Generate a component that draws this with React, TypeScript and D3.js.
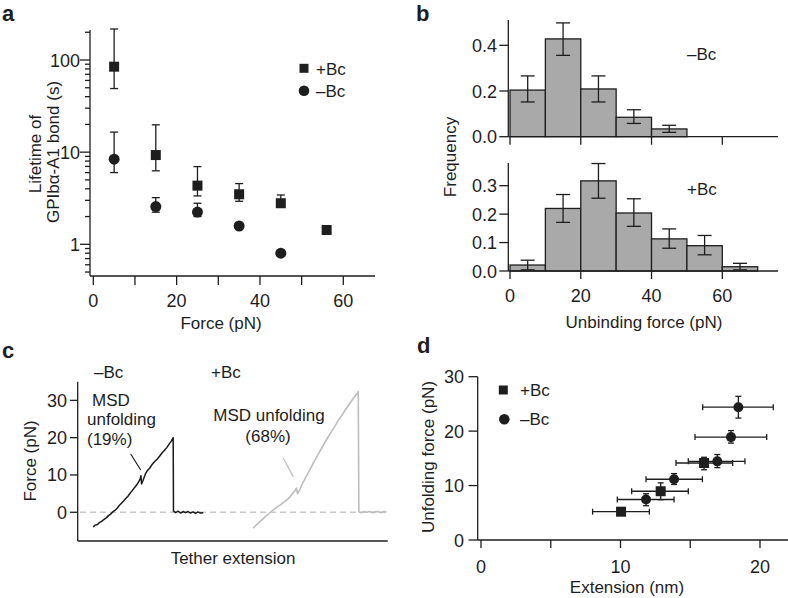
import * as d3 from "d3";

// panel a: bond lifetime vs force (log y)
const forceA = [5, 15, 25, 35, 45, 56];
const lifePlus = [84.6, 9.3, 4.33, 3.49, 2.79, 1.43];
const lifePlusHi = [217, 19.8, 6.97, 4.56, 3.43, null];
const lifePlusLo = [49, 6.27, 3.35, 2.93, 2.7, null];
const forceAMinus = [5, 15, 25, 35, 45];
const lifeMinus = [8.4, 2.57, 2.24, 1.58, 0.8];
const lifeMinusHi = [16.5, 3.21, 2.79, null, null];
const lifeMinusLo = [6.0, 2.23, 2.0, null, null];
const xTicksA = [0, 10, 20, 30, 40, 50, 60];
const xLabelsA = [0, 20, 40, 60];
const yLabelsA = [1, 10, 100];

// panel b: unbinding force histograms
const binStarts = [0, 10, 20, 30, 40, 50, 60];
const freqMinus = [0.204, 0.428, 0.209, 0.085, 0.034];
const freqMinusHi = [0.266, 0.498, 0.266, 0.118, 0.05];
const freqMinusLo = [0.152, 0.356, 0.152, 0.058, 0.019];
const freqPlus = [0.021, 0.22, 0.317, 0.204, 0.113, 0.089, 0.015];
const freqPlusHi = [0.038, 0.269, 0.378, 0.254, 0.148, 0.125, 0.027];
const freqPlusLo = [0.004, 0.171, 0.256, 0.157, 0.08, 0.057, 0.004];
const xTicksB = [0, 20, 40, 60];
const yTicksTop = [0, 0.2, 0.4];
const yTicksBottom = [0, 0.1, 0.2, 0.3];

// panel c: force traces (extension in arbitrary units, force in pN)
const traceMinus: [number, number][] = [
  [5.0, -3.9], [5.7, -3.4], [6.4, -3.3], [7.1, -2.7], [7.8, -2.4], [8.5, -1.9],
  [9.2, -1.5], [9.9, -0.9], [10.6, -0.5], [11.3, 0.1], [12.0, 0.5], [12.7, 1.1],
  [13.4, 1.8], [14.1, 2.4], [14.8, 3.0], [15.5, 3.7], [16.2, 4.3], [16.9, 5.1],
  [17.6, 5.8], [18.3, 6.6], [19.0, 7.3], [19.6, 8.1], [20.2, 9.0], [20.4, 9.8],
  [20.6, 7.6], [21.1, 8.6], [21.8, 10.2], [22.5, 11.2], [23.2, 11.8], [24.0, 12.8],
  [24.8, 13.6], [25.6, 14.2], [26.4, 15.0], [27.2, 15.9], [28.0, 16.6], [28.8, 17.4],
  [29.6, 18.4], [30.3, 19.2], [30.8, 20.0], [30.9, 0.3], [31.6, -0.1], [32.4, 0.3],
  [33.2, -0.2], [34.0, 0.2], [34.8, -0.1], [35.6, 0.2], [36.4, -0.2], [37.2, 0.1],
  [38.0, -0.3], [38.8, 0.1], [39.6, -0.2], [40.5, -0.1],
];
const tracePlus: [number, number][] = [
  [56.6, -4.3], [57.4, -3.6], [58.2, -3.0], [59.0, -2.3], [59.8, -1.8], [60.6, -1.1],
  [61.4, -0.6], [62.2, 0.0], [63.0, 0.6], [63.8, 1.1], [64.6, 1.6], [65.4, 2.0],
  [66.2, 2.5], [67.0, 3.0], [67.8, 3.6], [68.5, 4.2], [69.2, 4.9], [69.9, 5.6],
  [70.6, 6.5], [70.9, 5.0], [71.6, 6.0], [72.5, 7.7], [74.0, 10.0], [76.0, 13.2],
  [78.0, 16.2], [80.0, 19.1], [82.0, 21.8], [84.0, 24.5], [86.0, 27.0], [88.0, 29.5],
  [90.0, 31.7], [90.5, 32.3], [90.7, 0.1], [91.5, -0.1], [92.4, 0.2], [93.3, 0.0],
  [94.2, 0.2], [95.1, -0.1], [96.0, 0.1], [96.9, 0.2], [97.8, -0.1], [98.7, 0.2],
  [99.6, 0.1],
];
const yTicksC = [0, 10, 20, 30];

// panel d: unfolding force vs extension
const extPlus = [10.04, 12.88, 15.99];
const extPlusLo = [8.0, 10.8, 13.98];
const extPlusHi = [12.07, 14.86, 18.04];
const fPlus = [5.2, 8.96, 14.15];
const fPlusLo = [5.2, 7.4, 12.9];
const fPlusHi = [5.2, 10.5, 15.2];
const extMinus = [11.83, 13.84, 16.94, 17.92, 18.45];
const extMinusLo = [9.77, 11.83, 14.86, 15.34, 15.89];
const extMinusHi = [13.84, 15.87, 18.92, 20.48, 20.95];
const fMinus = [7.44, 11.16, 14.45, 18.9, 24.4];
const fMinusLo = [6.3, 10.2, 13.3, 17.8, 22.4];
const fMinusHi = [8.5, 12.2, 15.7, 20.1, 26.4];
const xTicksD = [0, 5, 10, 15, 20];
const xLabelsD = [0, 10, 20];
const yTicksD = [0, 10, 20, 30];

const FONT = "'Liberation Sans', Arial, Helvetica, sans-serif";
const INK = "#1e1e1e";
const SW = 1.3;
const TICK_FS = 18;
const TITLE_FS = 17;

function PanelA() {
  const x = d3.scaleLinear().domain([0, 60]).range([93.3, 343.3]);
  const y = d3.scaleLog().domain([1, 100]).range([244.3, 60]);
  const axisX = 90;
  const axisY = 276;
  const logTicks = y.copy().domain([y.invert(axisY), y.invert(30)]).ticks();
  const isMajor = (t: number) => Math.abs(Math.log10(t) - Math.round(Math.log10(t))) < 1e-6;
  const cap = 4;
  return (
    <g>
      <text x={2} y={21} fontSize={22} fontWeight="bold">a</text>
      <line x1={axisX} x2={axisX} y1={30} y2={axisY} stroke={INK} strokeWidth={SW} />
      <line x1={axisX} x2={375} y1={axisY} y2={axisY} stroke={INK} strokeWidth={SW} />
      {logTicks.map((t, i) => (
        <line key={i} x1={axisX - (isMajor(t) ? 10 : 5)} x2={axisX} y1={y(t)} y2={y(t)} stroke={INK} strokeWidth={SW} />
      ))}
      {yLabelsA.map((t) => (
        <text key={t} x={80} y={y(t) + 6.5} textAnchor="end" fontSize={TICK_FS}>{t}</text>
      ))}
      {xTicksA.map((t) => (
        <line key={t} x1={x(t)} x2={x(t)} y1={axisY} y2={axisY + 9} stroke={INK} strokeWidth={SW} />
      ))}
      {xLabelsA.map((t) => (
        <text key={t} x={x(t)} y={307} textAnchor="middle" fontSize={TICK_FS}>{t}</text>
      ))}
      <text x={221} y={329} textAnchor="middle" fontSize={TITLE_FS}>Force (pN)</text>
      <text transform="translate(35,154) rotate(-90)" textAnchor="middle" dominantBaseline="central" fontSize={TITLE_FS}>Lifetime of</text>
      <text transform="translate(53,152) rotate(-90)" textAnchor="middle" dominantBaseline="central" fontSize={TITLE_FS}>GPIbα-A1 bond (s)</text>
      {forceA.map((f, i) =>
        lifePlusHi[i] == null ? null : (
          <g key={"pe" + i} stroke={INK} strokeWidth={SW}>
            <line x1={x(f)} x2={x(f)} y1={y(lifePlusHi[i] as number)} y2={y(lifePlusLo[i] as number)} />
            <line x1={x(f) - cap} x2={x(f) + cap} y1={y(lifePlusHi[i] as number)} y2={y(lifePlusHi[i] as number)} />
            <line x1={x(f) - cap} x2={x(f) + cap} y1={y(lifePlusLo[i] as number)} y2={y(lifePlusLo[i] as number)} />
          </g>
        )
      )}
      {forceAMinus.map((f, i) =>
        lifeMinusHi[i] == null ? null : (
          <g key={"me" + i} stroke={INK} strokeWidth={SW}>
            <line x1={x(f)} x2={x(f)} y1={y(lifeMinusHi[i] as number)} y2={y(lifeMinusLo[i] as number)} />
            <line x1={x(f) - cap} x2={x(f) + cap} y1={y(lifeMinusHi[i] as number)} y2={y(lifeMinusHi[i] as number)} />
            <line x1={x(f) - cap} x2={x(f) + cap} y1={y(lifeMinusLo[i] as number)} y2={y(lifeMinusLo[i] as number)} />
          </g>
        )
      )}
      {forceA.map((f, i) => (
        <rect key={"p" + i} x={x(f) - 5} y={y(lifePlus[i]) - 5} width={10} height={10} fill={INK} />
      ))}
      {forceAMinus.map((f, i) => (
        <circle key={"m" + i} cx={x(f)} cy={y(lifeMinus[i])} r={5.5} fill={INK} />
      ))}
      <rect x={299.5} y={63.8} width={9} height={9} fill={INK} />
      <text x={316} y={74.5} fontSize={TITLE_FS}>+Bc</text>
      <circle cx={304} cy={90.7} r={5.3} fill={INK} />
      <text x={316} y={97} fontSize={TITLE_FS}>–Bc</text>
    </g>
  );
}

function Histogram({ y0, yTop, axisTop, yMax, yTicks, freq, hi, lo, label, labelY, showLabels }: any) {
  const x = d3.scaleLinear().domain([0, 60]).range([510, 722.3]);
  const y = d3.scaleLinear().domain([0, yMax]).range([y0, yTop]);
  const axisX = 508.3;
  const cap = 7;
  const fmt = d3.format(".1f");
  return (
    <g>
      {freq.map((v: number, i: number) => (
        <rect key={i} x={x(binStarts[i])} y={y(v)} width={x(binStarts[i] + 10) - x(binStarts[i])} height={y(0) - y(v)}
          fill="#a9a9a9" stroke={INK} strokeWidth={SW} />
      ))}
      {freq.map((v: number, i: number) => {
        const cx = (x(binStarts[i]) + x(binStarts[i] + 10)) / 2;
        return (
          <g key={"e" + i} stroke={INK} strokeWidth={SW}>
            <line x1={cx} x2={cx} y1={y(hi[i])} y2={y(lo[i])} />
            <line x1={cx - cap} x2={cx + cap} y1={y(hi[i])} y2={y(hi[i])} />
            <line x1={cx - cap} x2={cx + cap} y1={y(lo[i])} y2={y(lo[i])} />
          </g>
        );
      })}
      <line x1={axisX} x2={axisX} y1={axisTop} y2={y0} stroke={INK} strokeWidth={SW} />
      <line x1={axisX} x2={778} y1={y0} y2={y0} stroke={INK} strokeWidth={SW} />
      {yTicks.map((t: number) => (
        <g key={t}>
          <line x1={axisX - 9} x2={axisX} y1={y(t)} y2={y(t)} stroke={INK} strokeWidth={SW} />
          <text x={497} y={y(t) + 6.5} textAnchor="end" fontSize={TICK_FS}>{fmt(t)}</text>
        </g>
      ))}
      {xTicksB.map((t) => (
        <line key={t} x1={x(t)} x2={x(t)} y1={y0} y2={y0 + 8} stroke={INK} strokeWidth={SW} />
      ))}
      {showLabels &&
        xTicksB.map((t) => (
          <text key={t} x={x(t)} y={302} textAnchor="middle" fontSize={TICK_FS}>{t}</text>
        ))}
      <text x={687} y={labelY} fontSize={TITLE_FS}>{label}</text>
    </g>
  );
}

function PanelB() {
  return (
    <g>
      <text x={416} y={21} fontSize={22} fontWeight="bold">b</text>
      <Histogram y0={136.7} yTop={45.3} axisTop={20} yMax={0.4} yTicks={yTicksTop} freq={freqMinus} hi={freqMinusHi} lo={freqMinusLo}
        label="–Bc" labelY={60} showLabels={false} />
      <Histogram y0={271} yTop={185.7} axisTop={163} yMax={0.3} yTicks={yTicksBottom} freq={freqPlus} hi={freqPlusHi} lo={freqPlusLo}
        label="+Bc" labelY={195} showLabels={true} />
      <text transform="translate(450,157) rotate(-90)" textAnchor="middle" dominantBaseline="central" fontSize={TITLE_FS}>Frequency</text>
      <text x={644} y={328} textAnchor="middle" fontSize={TITLE_FS}>Unbinding force (pN)</text>
    </g>
  );
}

function PanelC() {
  const x = d3.scaleLinear().domain([0, 100]).range([77.7, 387.7]);
  const y = d3.scaleLinear().domain([-7.7, 35]).range([541, 381.7]);
  const line = d3.line<[number, number]>().x((d) => x(d[0])).y((d) => y(d[1]));
  return (
    <g>
      <text x={2} y={358} fontSize={22} fontWeight="bold">c</text>
      <line x1={80} x2={387.7} y1={y(0)} y2={y(0)} stroke="#c8c8c8" strokeWidth={1.3} strokeDasharray="6,4" />
      <line x1={77.7} x2={77.7} y1={381.7} y2={541} stroke={INK} strokeWidth={SW} />
      <line x1={77.7} x2={387.7} y1={541} y2={541} stroke={INK} strokeWidth={SW} />
      {yTicksC.map((t) => (
        <g key={t}>
          <line x1={70} x2={77.7} y1={y(t)} y2={y(t)} stroke={INK} strokeWidth={SW} />
          <text x={67} y={y(t) + 6.5} textAnchor="end" fontSize={TICK_FS}>{t}</text>
        </g>
      ))}
      <path d={line(traceMinus) || ""} fill="none" stroke="#1a1a1a" strokeWidth={1.5} strokeLinejoin="round" />
      <path d={line(tracePlus) || ""} fill="none" stroke="#bdbdbd" strokeWidth={1.6} strokeLinejoin="round" />
      <text x={94} y={378} fontSize={TITLE_FS}>–Bc</text>
      <text x={211} y={378} fontSize={TITLE_FS}>+Bc</text>
      <text x={92} y={406} fontSize={TITLE_FS}>MSD</text>
      <text x={87} y={425} fontSize={TITLE_FS}>unfolding</text>
      <text x={87} y={445} fontSize={TITLE_FS}>(19%)</text>
      <line x1={130.7} y1={454} x2={140.7} y2={470} stroke="#1a1a1a" strokeWidth={1.2} />
      <text x={269} y={421} textAnchor="middle" fontSize={TITLE_FS}>MSD unfolding</text>
      <text x={268} y={442} textAnchor="middle" fontSize={TITLE_FS}>(68%)</text>
      <line x1={283.3} y1={458.3} x2={293.3} y2={476.7} stroke="#bdbdbd" strokeWidth={1.3} />
      <text transform="translate(30,461) rotate(-90)" textAnchor="middle" dominantBaseline="central" fontSize={TITLE_FS}>Force (pN)</text>
      <text x={233} y={564} textAnchor="middle" fontSize={TITLE_FS}>Tether extension</text>
    </g>
  );
}

function PanelD() {
  const x = d3.scaleLinear().domain([0, 20]).range([481, 760]);
  const y = d3.scaleLinear().domain([0, 30]).range([540, 376.7]);
  const cap = 3;
  const errs = (ex: number[], lx: number[], hx: number[], fy: number[], ly: number[], hy: number[], k: string) =>
    ex.map((e, i) => (
      <g key={k + i} stroke={INK} strokeWidth={SW}>
        <line x1={x(lx[i])} x2={x(hx[i])} y1={y(fy[i])} y2={y(fy[i])} />
        <line x1={x(lx[i])} x2={x(lx[i])} y1={y(fy[i]) - cap} y2={y(fy[i]) + cap} />
        <line x1={x(hx[i])} x2={x(hx[i])} y1={y(fy[i]) - cap} y2={y(fy[i]) + cap} />
        {hy[i] !== ly[i] && (
          <g>
            <line x1={x(e)} x2={x(e)} y1={y(hy[i])} y2={y(ly[i])} />
            <line x1={x(e) - cap} x2={x(e) + cap} y1={y(hy[i])} y2={y(hy[i])} />
            <line x1={x(e) - cap} x2={x(e) + cap} y1={y(ly[i])} y2={y(ly[i])} />
          </g>
        )}
      </g>
    ));
  return (
    <g>
      <text x={417} y={353} fontSize={22} fontWeight="bold">d</text>
      <line x1={477.7} x2={477.7} y1={376.7} y2={540} stroke={INK} strokeWidth={SW} />
      <line x1={477.7} x2={788} y1={540} y2={540} stroke={INK} strokeWidth={SW} />
      {yTicksD.map((t) => (
        <g key={t}>
          <line x1={468.5} x2={477.7} y1={y(t)} y2={y(t)} stroke={INK} strokeWidth={SW} />
          <text x={464} y={y(t) + 6.5} textAnchor="end" fontSize={TICK_FS}>{t}</text>
        </g>
      ))}
      {xTicksD.map((t) => (
        <line key={t} x1={x(t)} x2={x(t)} y1={540} y2={548} stroke={INK} strokeWidth={SW} />
      ))}
      {xLabelsD.map((t) => (
        <text key={t} x={x(t)} y={573} textAnchor="middle" fontSize={TICK_FS}>{t}</text>
      ))}
      {errs(extPlus, extPlusLo, extPlusHi, fPlus, fPlusLo, fPlusHi, "pe")}
      {errs(extMinus, extMinusLo, extMinusHi, fMinus, fMinusLo, fMinusHi, "me")}
      {extPlus.map((e, i) => (
        <rect key={"p" + i} x={x(e) - 5} y={y(fPlus[i]) - 5} width={10} height={10} fill={INK} />
      ))}
      {extMinus.map((e, i) => (
        <circle key={"m" + i} cx={x(e)} cy={y(fMinus[i])} r={5} fill={INK} />
      ))}
      <rect x={498.8} y={385.5} width={9} height={9} fill={INK} />
      <text x={520} y={396} fontSize={TITLE_FS}>+Bc</text>
      <circle cx={504.3} cy={419.3} r={5.3} fill={INK} />
      <text x={520} y={425} fontSize={TITLE_FS}>–Bc</text>
      <text transform="translate(428,457) rotate(-90)" textAnchor="middle" dominantBaseline="central" fontSize={TITLE_FS}>Unfolding force (pN)</text>
      <text x={627} y={593} textAnchor="middle" fontSize={TITLE_FS}>Extension (nm)</text>
    </g>
  );
}

export default function App() {
  return (
    <svg width={788} height={598} style={{ position: "absolute", left: 0, top: 0, background: "#fff" }}
      fontFamily={FONT} fill={INK}>
      <PanelA />
      <PanelB />
      <PanelC />
      <PanelD />
    </svg>
  );
}
